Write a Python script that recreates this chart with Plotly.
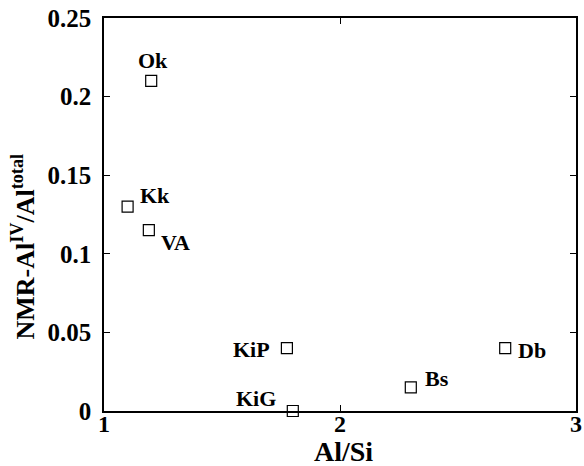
import plotly.graph_objects as go

# Samples: Al/Si ratio vs. fraction of tetrahedral Al from NMR
samples = ["Ok", "Kk", "VA", "KiP", "KiG", "Bs", "Db"]
al_si = [1.20, 1.10, 1.19, 1.775, 1.80, 2.30, 2.70]
al_iv_frac = [0.21, 0.13, 0.115, 0.04, 0.0, 0.015, 0.04]

x_ticks = [1, 2, 3]
y_ticks = [0, 0.05, 0.1, 0.15, 0.2, 0.25]
y_tick_text = ["0", "0.05", "0.1", "0.15", "0.2", "0.25"]

x_title = "Al/Si"
y_title = "NMR-Al<sup>IV</sup>/Al<sup>total</sup>"

# Label offsets (px) relative to each marker
label_dx = [2, 27, 27, -35, -37, 26, 27]
label_dy = [20, 11, -12, -1, 13, 9, -2]

FONT = "Liberation Serif, Times New Roman, serif"


def bold(text):
    return f"<b>{text}</b>"


fig = go.Figure()
fig.add_trace(go.Scatter(
    x=al_si, y=al_iv_frac, mode="markers",
    marker=dict(symbol="square-open", size=11, color="black",
                line=dict(color="black", width=1.2)),
    showlegend=False, cliponaxis=False,
))

for name, x, y, dx, dy in zip(samples, al_si, al_iv_frac, label_dx, label_dy):
    fig.add_annotation(x=x, y=y, text=bold(name), showarrow=False,
                       xshift=dx, yshift=dy,
                       font=dict(family=FONT, size=22, color="black"))

# Axis titles as paper-anchored annotations
fig.add_annotation(xref="paper", yref="paper", x=0.5, y=0, text=bold(x_title),
                   showarrow=False, xanchor="center", yanchor="top",
                   xshift=3, yshift=-23,
                   font=dict(family=FONT, size=28, color="black"))
fig.add_annotation(xref="paper", yref="paper", x=0, y=0.5, text=bold(y_title),
                   showarrow=False, textangle=-90, xanchor="center", yanchor="middle",
                   xshift=-80, yshift=-32,
                   font=dict(family=FONT, size=26, color="black"))

axis_common = dict(
    showline=True, linecolor="black", linewidth=1.5, mirror="ticks",
    ticks="inside", ticklen=6, tickwidth=1.2, tickcolor="black",
    showgrid=False, zeroline=False,
)

fig.update_xaxes(range=[1, 3], tickvals=x_ticks,
                 ticktext=[bold(str(v)) for v in x_ticks],
                 tickfont=dict(family=FONT, size=24, color="black"),
                 ticklabelstandoff=-10, **axis_common)
fig.update_yaxes(range=[0, 0.25], tickvals=y_ticks,
                 ticktext=[bold(t) for t in y_tick_text],
                 tickfont=dict(family=FONT, size=25, color="black"),
                 ticklabelstandoff=6, **axis_common)

fig.update_layout(
    width=584, height=466,
    margin=dict(l=104, r=8, t=18, b=55, autoexpand=False),
    paper_bgcolor="white", plot_bgcolor="white",
)

fig.write_html("out.html")
